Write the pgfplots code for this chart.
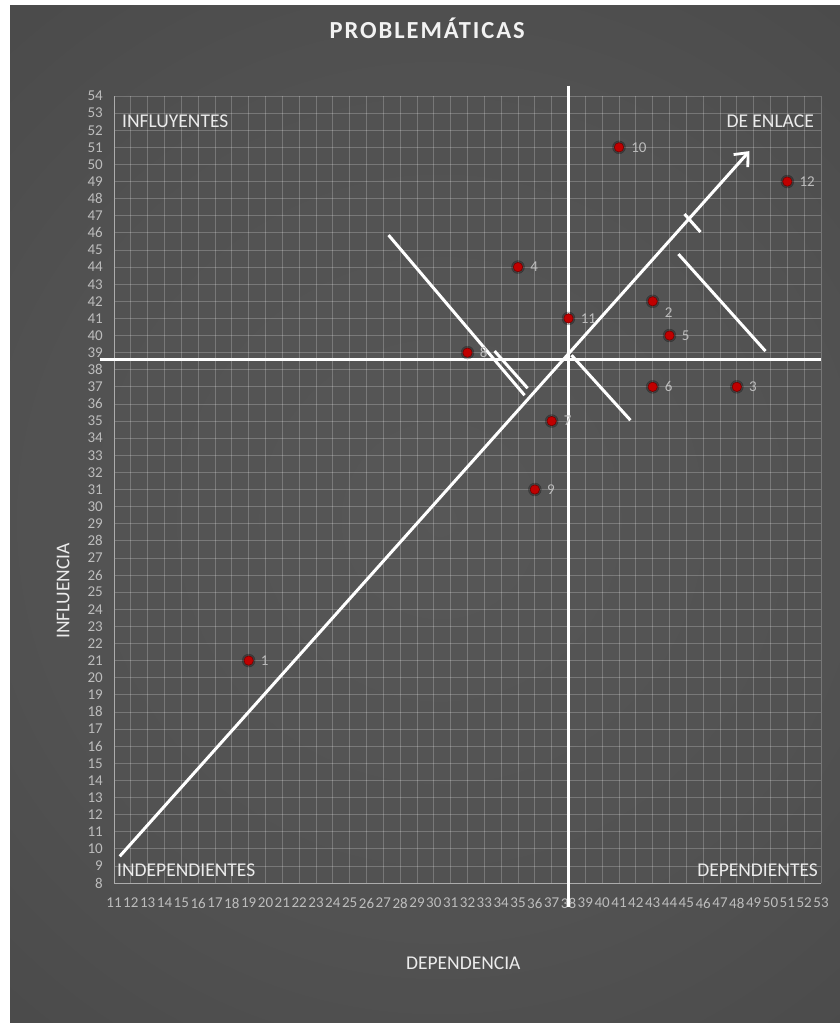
\documentclass[border=0pt]{standalone}
\usepackage{fontspec}
\setmainfont{Carlito}
\usepackage{pgfplots}
\pgfplotsset{compat=1.18}
\usetikzlibrary{arrows.meta}
\definecolor{tick}{HTML}{BDBDBD}
\definecolor{mred}{HTML}{C00000}
\definecolor{c0}{gray}{0.34}
\definecolor{c1}{gray}{0.32}
\definecolor{c2}{gray}{0.27}
\definecolor{c3}{gray}{0.19}
\definecolor{c4}{gray}{0.12}
\pgfdeclareradialshading{bgshade}{\pgfpoint{0bp}{0bp}}{color(0bp)=(c0); color(15bp)=(c1); color(31bp)=(c2); color(38bp)=(c3); color(50bp)=(c4)}
\newcommand{\tickfont}{\fontsize{15bp}{16bp}\selectfont}
\newcommand{\labfont}{\fontsize{19.5bp}{21bp}\selectfont}
\pgfplotstableread{
x y lab
19 21 1
48 37 3
35 44 4
44 40 5
43 37 6
37 35 7
32 39 8
36 31 9
41 51 10
38 41 11
51 49 12
}\pts
\pgfplotstableread{
x y lab
43 42 2
}\ptb
\begin{document}
\begin{tikzpicture}
\useasboundingbox (0,0) rectangle (840bp,-1023bp);
\fill[white] (0,0) rectangle (840bp,-1023bp);
\begin{scope}
\clip (10bp,-5bp) rectangle (840bp,-1023bp);
\fill[c4] (0,0) rectangle (840bp,-1023bp);
\shade[shading=bgshade] (440bp,-520bp) circle (700bp);
\end{scope}
\begin{axis}[
  at={(114bp,-883bp)}, anchor=south west,
  scale only axis, width=707bp, height=787bp,
  xmin=11, xmax=53, ymin=8, ymax=54,
  xtick={11,...,53}, ytick={8,...,54},
  grid=major,
  major grid style={white, opacity=0.22, line width=0.8bp},
  axis x line*=bottom, axis y line*=left,
  axis line style={gray!65, line width=1bp, -},
  major tick length=0pt,
  tick label style={font=\tickfont, text=tick},
  xticklabel style={anchor=center, inner sep=0pt, yshift=-20bp},
  yticklabel style={anchor=east, inner sep=0pt, xshift=-11bp},
  /pgf/number format/assume math mode=true,
  clip=false,
  title={PROBLEMÁTICAS},
  title style={at={(axis description cs:0.443,1.078)}, anchor=center, inner sep=0pt,
    font=\fontsize{24.5bp}{26bp}\selectfont\bfseries\addfontfeature{LetterSpace=8}, text=white!95!black},
  xlabel={DEPENDENCIA},
  xlabel style={at={(axis description cs:0.494,-0.1017)}, anchor=center, inner sep=0pt, font=\labfont, text=white!92!black},
  ylabel={INFLUENCIA},
  ylabel style={at={(axis description cs:-0.0721,0.371)}, anchor=center, inner sep=0pt, font=\labfont, text=white!92!black},
]
% glow
\addplot[only marks, mark=*, mark size=6.5bp, mark options={draw=none, fill=black, opacity=0.25}, forget plot] table[x=x,y=y] {\pts};
\addplot[only marks, mark=*, mark size=6.5bp, mark options={draw=none, fill=black, opacity=0.25}, forget plot] table[x=x,y=y] {\ptb};
% points
\addplot[only marks, mark=*, mark size=4.7bp,
  mark options={fill=mred, draw=red!45!black, line width=0.6bp},
  nodes near coords, point meta=explicit symbolic,
  nodes near coords style={anchor=west, inner sep=0pt, xshift=12bp, font=\tickfont, text=tick}]
  table[x=x,y=y,meta=lab] {\pts};
\addplot[only marks, mark=*, mark size=4.7bp,
  mark options={fill=mred, draw=red!45!black, line width=0.6bp},
  nodes near coords, point meta=explicit symbolic,
  nodes near coords style={anchor=west, inner sep=0pt, xshift=12bp, yshift=-11bp, font=\tickfont, text=tick}]
  table[x=x,y=y,meta=lab] {\ptb};
% white lines
\draw[white, line width=3bp] (axis cs:38,54.6) -- (axis cs:38,6.6);
\draw[white, line width=3bp] (axis cs:10.15,38.6) -- (axis cs:53.02,38.6);
\draw[white, line width=3bp, -{Straight Barb[length=11bp, width=19bp, line width=2.8bp]}] (axis cs:11.34,9.56) -- (axis cs:48.75,50.78);
\draw[white, line width=3bp] (axis cs:27.31,45.87) -- (axis cs:35.39,36.51);
\draw[white, line width=3bp] (axis cs:33.61,39.09) -- (axis cs:35.57,36.92);
\draw[white, line width=3bp] (axis cs:38.18,38.85) -- (axis cs:41.68,35.05);
\draw[white, line width=3bp] (axis cs:44.53,44.76) -- (axis cs:49.70,39.09);
\draw[white, line width=3bp] (axis cs:44.89,47.10) -- (axis cs:45.84,46.05);
\end{axis}
\node[anchor=west, inner sep=0pt, font=\labfont, text=white!92!black] at (122bp,-121bp) {INFLUYENTES};
\node[anchor=east, inner sep=0pt, font=\labfont, text=white!92!black] at (814bp,-121bp) {DE ENLACE};
\node[anchor=west, inner sep=0pt, font=\labfont, text=white!92!black] at (117bp,-870bp) {INDEPENDIENTES};
\node[anchor=east, inner sep=0pt, font=\labfont, text=white!92!black] at (818bp,-870bp) {DEPENDIENTES};
\end{tikzpicture}
\end{document}
